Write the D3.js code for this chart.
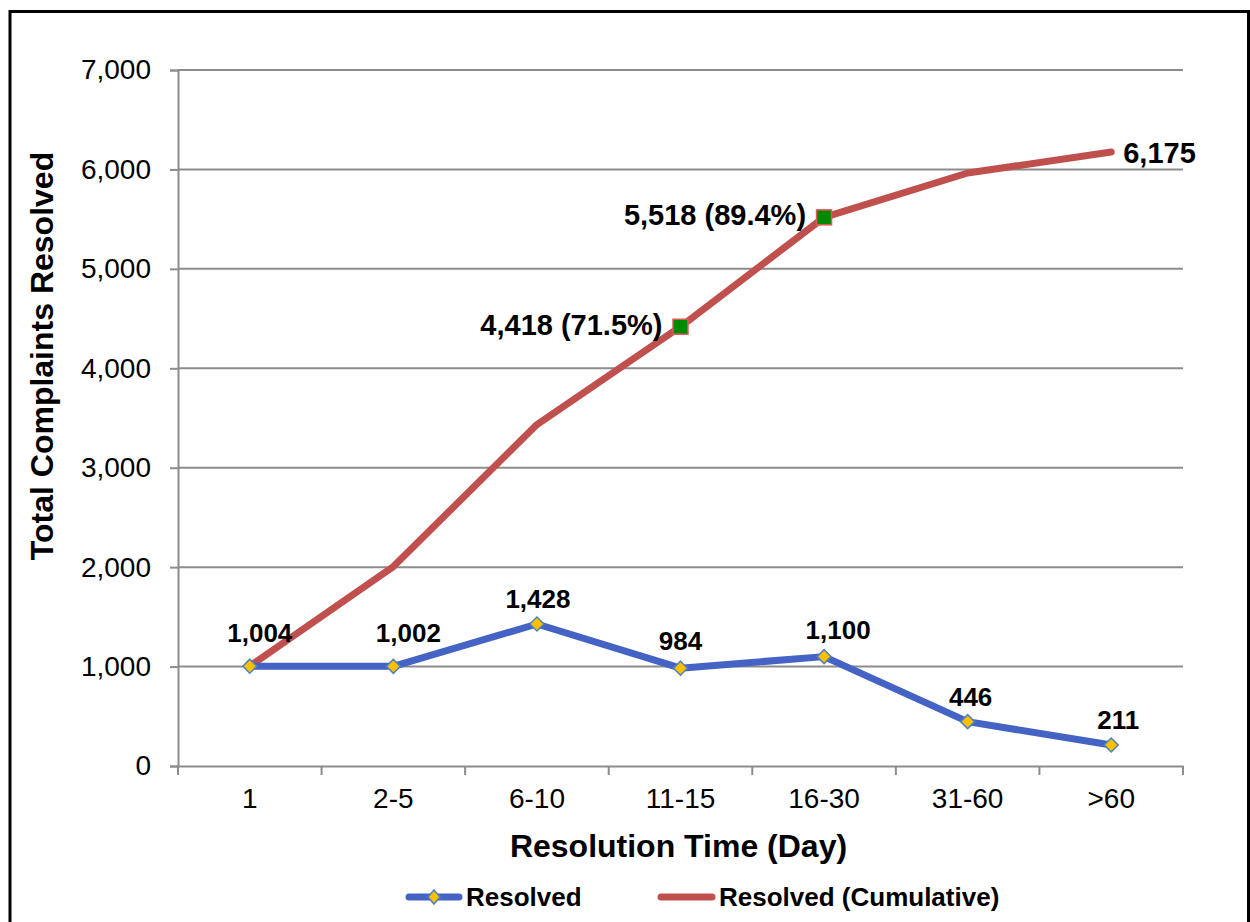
<!DOCTYPE html>
<html>
<head>
<meta charset="utf-8">
<script src="https://cdn.jsdelivr.net/npm/d3@7"></script>
<style>
body { margin: 0; background: #fff; }
svg text { font-family: "Liberation Sans", Arial, sans-serif; }
</style>
</head>
<body>
<div id="chart"></div>
<script>
var categories = ['1', '2-5', '6-10', '11-15', '16-30', '31-60', '>60'];
var resolved = [1004, 1002, 1428, 984, 1100, 446, 211];
var cumulative = [1004, 2006, 3434, 4418, 5518, 5964, 6175];
var yTicks = [0, 1000, 2000, 3000, 4000, 5000, 6000, 7000];
// labels for the cumulative line (null = no label)
var cumLabels = [null, null, null, '4,418 (71.5%)', '5,518 (89.4%)', null, '6,175'];

var chart_width = 1250, chart_height = 922;
var plotLeft = 178, plotRight = 1183, plotTop = 70, plotBottom = 766;

// small nudges of the value labels, like excel placed them
var resLabelDx = [10, 15, 1, 0, 14, 3, 7];
var resLabelDy = [-24, -24, -16, -18, -18, -16, -16];

var svg = d3.select('#chart').append('svg')
	.attr('width', chart_width)
	.attr('height', chart_height);

// frame (no bottom edge visible)
svg.append('path')
	.attr('d', 'M10,' + (chart_height + 5) + 'V11.5H1248.5V' + (chart_height + 5))
	.attr('fill', 'none')
	.attr('stroke', '#000')
	.attr('stroke-width', 3);

var x = d3.scaleBand().domain(categories).range([plotLeft, plotRight]);
var y = d3.scaleLinear().domain([0, 7000]).range([plotBottom, plotTop]);
var cx = function(i) { return x(categories[i]) + x.bandwidth() / 2; };

// gridlines
svg.append('g').selectAll('line')
	.data(yTicks.slice(1))
	.enter().append('line')
	.attr('x1', plotLeft).attr('x2', plotRight)
	.attr('y1', function(d){ return y(d); })
	.attr('y2', function(d){ return y(d); })
	.attr('stroke', '#8c8c8c').attr('stroke-width', 2);

// y axis
var yAxis = d3.axisLeft(y).tickValues(yTicks).tickSize(8).tickPadding(19)
	.tickFormat(d3.format(','));
var gy = svg.append('g').attr('transform', 'translate(' + plotLeft + ',0)').call(yAxis);
gy.select('.domain').attr('stroke', '#8c8c8c').attr('stroke-width', 2);
gy.selectAll('.tick line').attr('stroke', '#8c8c8c').attr('stroke-width', 2);
gy.selectAll('.tick text').attr('font-size', 28).attr('fill', '#000')
	.style('font-family', '"Liberation Sans", Arial, sans-serif');

// x axis
var xAxis = d3.axisBottom(x).tickSize(0).tickPadding(22);
var gx = svg.append('g').attr('transform', 'translate(0,' + plotBottom + ')').call(xAxis);
gx.select('.domain').attr('stroke', '#8c8c8c').attr('stroke-width', 2);
gx.selectAll('.tick text').attr('font-size', 28).attr('fill', '#000')
	.style('font-family', '"Liberation Sans", Arial, sans-serif');
// ticks between the categories
var bounds = categories.map(function(c){ return x(c); }).concat([plotRight]);
gx.append('g').selectAll('line')
	.data(bounds).enter().append('line')
	.attr('x1', function(d){ return d; }).attr('x2', function(d){ return d; })
	.attr('y1', 0).attr('y2', 9)
	.attr('stroke', '#8c8c8c').attr('stroke-width', 2);

// axis titles
svg.append('text')
	.attr('x', (plotLeft + plotRight) / 2 - 2).attr('y', 857)
	.attr('text-anchor', 'middle')
	.attr('font-size', 32).attr('font-weight', 'bold')
	.text('Resolution Time (Day)');

svg.append('text')
	.attr('transform', 'translate(53,356) rotate(-90)')
	.attr('text-anchor', 'middle')
	.attr('font-size', 32).attr('font-weight', 'bold')
	.text('Total Complaints Resolved');

var line = d3.line()
	.x(function(d, i){ return cx(i); })
	.y(function(d){ return y(d); });

// cumulative line
svg.append('path')
	.datum(cumulative)
	.attr('d', line)
	.attr('fill', 'none')
	.attr('stroke', '#c0504d')
	.attr('stroke-width', 7)
	.attr('stroke-linecap', 'round')
	.attr('stroke-linejoin', 'round');

// resolved line
svg.append('path')
	.datum(resolved)
	.attr('d', line)
	.attr('fill', 'none')
	.attr('stroke', '#4563c4')
	.attr('stroke-width', 7)
	.attr('stroke-linejoin', 'round');

// diamond markers
svg.append('g').selectAll('path')
	.data(resolved).enter().append('path')
	.attr('transform', function(d, i){ return 'translate(' + cx(i) + ',' + y(d) + ')'; })
	.attr('d', 'M0,-7L7,0L0,7L-7,0Z')
	.attr('fill', '#ffc000')
	.attr('stroke', '#4f81bd')
	.attr('stroke-width', 1.5);

// square markers on the labelled cumulative points
var marked = cumulative.map(function(d, i){ return {v: d, i: i}; })
	.filter(function(d){ return d.i === 3 || d.i === 4; });
svg.append('g').selectAll('rect')
	.data(marked)
	.enter().append('rect')
	.attr('x', function(d){ return cx(d.i) - 7.5; })
	.attr('y', function(d){ return y(d.v) - 7.5; })
	.attr('width', 15).attr('height', 15)
	.attr('fill', '#008a00')
	.attr('stroke', '#e05a5a')
	.attr('stroke-width', 1.5);

// resolved labels
svg.append('g').selectAll('text')
	.data(resolved).enter().append('text')
	.attr('x', function(d, i){ return cx(i) + resLabelDx[i]; })
	.attr('y', function(d, i){ return y(d) + resLabelDy[i]; })
	.attr('text-anchor', 'middle')
	.attr('font-size', 26).attr('font-weight', 'bold')
	.text(function(d){ return d3.format(',')(d); });

// cumulative labels
var cumData = cumulative.map(function(d, i){ return {v: d, i: i, t: cumLabels[i]}; })
	.filter(function(d){ return d.t !== null; });
svg.append('g').selectAll('text')
	.data(cumData).enter()
	.append('text')
	.attr('x', function(d){ return d.i === 6 ? cx(d.i) + 12 : cx(d.i) - 18; })
	.attr('y', function(d){ return y(d.v) + (d.i === 6 ? 11 : 8); })
	.attr('text-anchor', function(d){ return d.i === 6 ? 'start' : 'end'; })
	.attr('font-size', 29).attr('font-weight', 'bold')
	.text(function(d){ return d.t; });

// legend
var legend = svg.append('g');
legend.append('line')
	.attr('x1', 409).attr('x2', 459).attr('y1', 897).attr('y2', 897)
	.attr('stroke', '#4563c4').attr('stroke-width', 7).attr('stroke-linecap', 'round');
legend.append('path')
	.attr('transform', 'translate(434,897)')
	.attr('d', 'M0,-7L6,0L0,7L-6,0Z')
	.attr('fill', '#ffc000').attr('stroke', '#4f81bd').attr('stroke-width', 1.5);
legend.append('text')
	.attr('x', 466).attr('y', 906)
	.attr('font-size', 26).attr('font-weight', 'bold')
	.text('Resolved');
legend.append('line')
	.attr('x1', 661).attr('x2', 712).attr('y1', 897).attr('y2', 897)
	.attr('stroke', '#c0504d').attr('stroke-width', 7).attr('stroke-linecap', 'round');
legend.append('text')
	.attr('x', 719).attr('y', 906)
	.attr('font-size', 26).attr('font-weight', 'bold')
	.text('Resolved (Cumulative)');
</script>
</body>
</html>
